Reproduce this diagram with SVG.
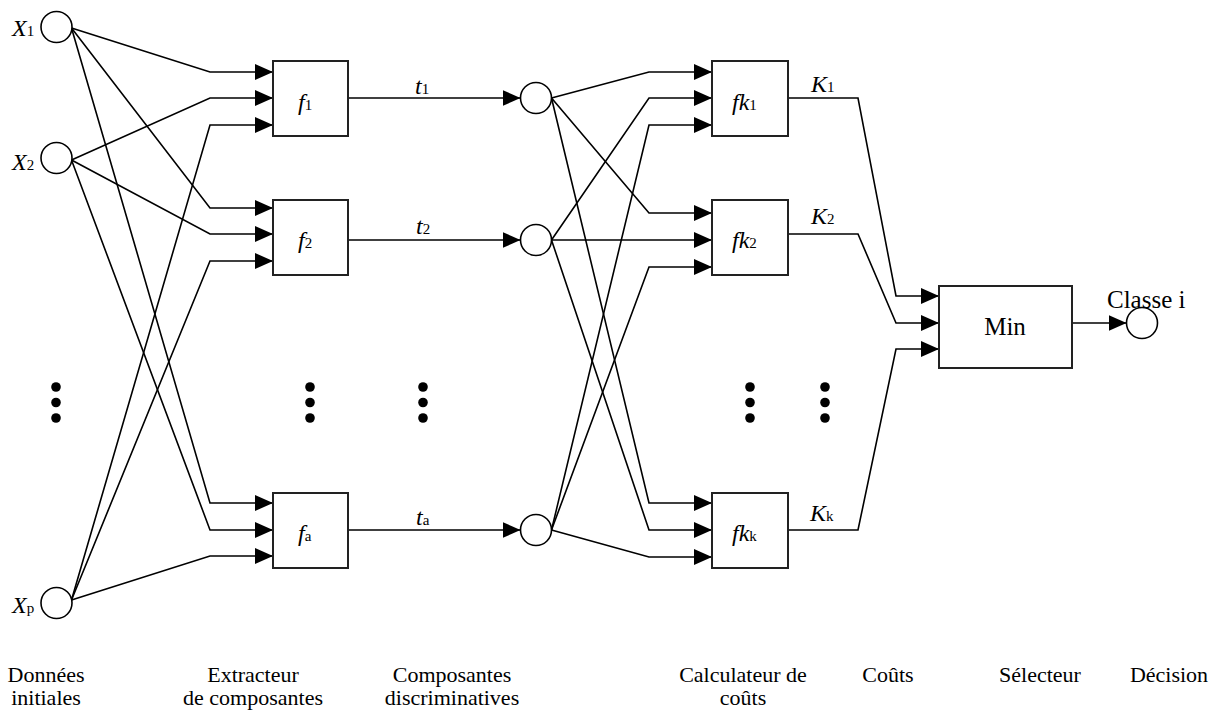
<svg xmlns="http://www.w3.org/2000/svg" width="1225" height="711" viewBox="0 0 1225 711" font-family="'Liberation Serif', 'DejaVu Serif', serif">
<style>
.ln{fill:none;stroke:#000;stroke-width:1.6;marker-end:url(#ah)}
.bx{fill:#fff;stroke:#222;stroke-width:2}
.nd{fill:#fff;stroke:#000;stroke-width:1.6}
.dot{fill:#000}
text{font-family:'Liberation Serif','DejaVu Serif',serif;fill:#000}
.lb{font-size:24px}
.it{font-style:italic}
.sb{font-size:15px;font-style:normal}
.cap{font-size:22px;text-anchor:middle}
.big{font-size:25px}
</style>
<defs>
<marker id="ah" markerUnits="userSpaceOnUse" markerWidth="18" markerHeight="16" refX="18" refY="8" orient="auto">
<path d="M0,0 L18,8 L0,16 Z" fill="#000"/>
</marker>
</defs>
<g id="connectors">
<path class="ln" d="M71.5,28 L210,72 L273,72"/>
<path class="ln" d="M71.5,28 L210,208 L273,208"/>
<path class="ln" d="M71.5,28 L210,503 L273,503"/>
<path class="ln" d="M71.5,160 L210,98 L273,98"/>
<path class="ln" d="M71.5,160 L210,234 L273,234"/>
<path class="ln" d="M71.5,160 L210,530 L273,530"/>
<path class="ln" d="M71.5,600 L210,125 L273,125"/>
<path class="ln" d="M71.5,600 L210,261 L273,261"/>
<path class="ln" d="M71.5,600 L210,556 L273,556"/>
<path class="ln" d="M348,98 L520.5,98"/>
<path class="ln" d="M348,240 L520.5,240"/>
<path class="ln" d="M348,530 L520.5,530"/>
<path class="ln" d="M551.5,98 L649,72 L712,72"/>
<path class="ln" d="M551.5,98 L649,213 L712,213"/>
<path class="ln" d="M551.5,98 L649,503 L712,503"/>
<path class="ln" d="M551.5,240 L649,98 L712,98"/>
<path class="ln" d="M551.5,240 L649,240 L712,240"/>
<path class="ln" d="M551.5,240 L649,530 L712,530"/>
<path class="ln" d="M551.5,530 L649,125 L712,125"/>
<path class="ln" d="M551.5,530 L649,267 L712,267"/>
<path class="ln" d="M551.5,530 L649,557 L712,557"/>
<path class="ln" d="M788,98 L858,98 L896,296 L939,296"/>
<path class="ln" d="M788,234 L858,234 L896,323 L939,323"/>
<path class="ln" d="M788,530 L858,530 L896,349 L939,349"/>
<path class="ln" d="M1072,323 L1126.5,323"/>
</g>
<g id="X1"><circle class="nd" cx="56.5" cy="27" r="15.5"/><text class="lb" x="12" y="36"><tspan class="it">X</tspan><tspan class="sb">1</tspan></text></g>
<g id="X2"><circle class="nd" cx="56.5" cy="158" r="15.5"/><text class="lb" x="12" y="170"><tspan class="it">X</tspan><tspan class="sb">2</tspan></text></g>
<g id="Xp"><circle class="nd" cx="56.5" cy="603" r="15.5"/><text class="lb" x="12" y="613"><tspan class="it">X</tspan><tspan class="sb">p</tspan></text></g>
<g id="f1"><rect class="bx" x="273" y="61" width="75" height="75"/><text class="lb" x="298" y="110"><tspan class="it">f</tspan><tspan class="sb">1</tspan></text></g>
<g id="f2"><rect class="bx" x="273" y="200" width="75" height="75"/><text class="lb" x="298" y="248"><tspan class="it">f</tspan><tspan class="sb">2</tspan></text></g>
<g id="fa"><rect class="bx" x="273" y="493" width="75" height="75"/><text class="lb" x="298" y="541"><tspan class="it">f</tspan><tspan class="sb">a</tspan></text></g>
<g id="t1"><circle class="nd" cx="536" cy="98" r="15.5"/><text class="lb" x="415" y="94"><tspan class="it">t</tspan><tspan class="sb">1</tspan></text></g>
<g id="t2"><circle class="nd" cx="536" cy="240" r="15.5"/><text class="lb" x="416" y="234"><tspan class="it">t</tspan><tspan class="sb">2</tspan></text></g>
<g id="ta"><circle class="nd" cx="536" cy="530" r="15.5"/><text class="lb" x="416" y="525"><tspan class="it">t</tspan><tspan class="sb">a</tspan></text></g>
<g id="fk1"><rect class="bx" x="712" y="61" width="76" height="75"/><text class="lb" x="732" y="110"><tspan class="it">fk</tspan><tspan class="sb">1</tspan></text></g>
<g id="fk2"><rect class="bx" x="712" y="200" width="76" height="75"/><text class="lb" x="732" y="248"><tspan class="it">fk</tspan><tspan class="sb">2</tspan></text></g>
<g id="fkk"><rect class="bx" x="712" y="493" width="76" height="75"/><text class="lb" x="732" y="541"><tspan class="it">fk</tspan><tspan class="sb">k</tspan></text></g>
<g id="K1"><text class="lb" x="811" y="92"><tspan class="it">K</tspan><tspan class="sb">1</tspan></text></g>
<g id="K2"><text class="lb" x="811" y="224"><tspan class="it">K</tspan><tspan class="sb">2</tspan></text></g>
<g id="Kk"><text class="lb" x="810" y="521"><tspan class="it">K</tspan><tspan class="sb">k</tspan></text></g>
<g id="Min"><rect class="bx" x="939" y="286" width="133" height="82"/><text class="big" x="1005" y="335" text-anchor="middle">Min</text></g>
<g id="Classe"><circle class="nd" cx="1142" cy="323" r="15.5"/><text class="big" x="1107" y="308">Classe i</text></g>
<g id="ellipses">
<circle class="dot" cx="56" cy="387" r="4.8"/><circle class="dot" cx="56" cy="402.5" r="4.8"/><circle class="dot" cx="56" cy="418" r="4.8"/>
<circle class="dot" cx="310" cy="387" r="4.8"/><circle class="dot" cx="310" cy="402.5" r="4.8"/><circle class="dot" cx="310" cy="418" r="4.8"/>
<circle class="dot" cx="423" cy="387" r="4.8"/><circle class="dot" cx="423" cy="402.5" r="4.8"/><circle class="dot" cx="423" cy="418" r="4.8"/>
<circle class="dot" cx="750" cy="387" r="4.8"/><circle class="dot" cx="750" cy="402.5" r="4.8"/><circle class="dot" cx="750" cy="418" r="4.8"/>
<circle class="dot" cx="825" cy="387" r="4.8"/><circle class="dot" cx="825" cy="402.5" r="4.8"/><circle class="dot" cx="825" cy="418" r="4.8"/>
</g>
<g id="captions">
<text class="cap" x="46" y="682">Données</text>
<text class="cap" x="46" y="705">initiales</text>
<text class="cap" x="253" y="682">Extracteur</text>
<text class="cap" x="253" y="705">de composantes</text>
<text class="cap" x="452" y="682">Composantes</text>
<text class="cap" x="452" y="705">discriminatives</text>
<text class="cap" x="743" y="682">Calculateur de</text>
<text class="cap" x="743" y="705">coûts</text>
<text class="cap" x="888" y="682">Coûts</text>
<text class="cap" x="1040" y="682">Sélecteur</text>
<text class="cap" x="1169" y="682">Décision</text>
</g>
</svg>
